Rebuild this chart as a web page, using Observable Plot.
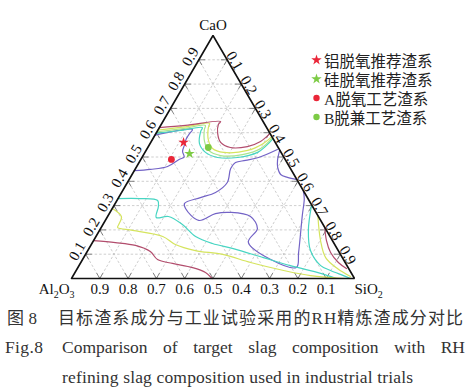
<!DOCTYPE html>
<html><head><meta charset="utf-8">
<script src="https://cdn.jsdelivr.net/npm/d3@7"></script>
<script src="https://cdn.jsdelivr.net/npm/@observablehq/plot@0.6"></script>
<style>
body{margin:0;background:#fff;}
#wrap{position:relative;width:475px;height:391px;overflow:hidden;background:#fff;}
#legend{position:absolute;left:309px;top:50px;font-family:"Liberation Serif","Noto Sans CJK SC",serif;font-size:15.5px;color:#222;}
.row{display:flex;align-items:center;height:19px;white-space:nowrap;}
.row svg{width:15px;height:14px;flex:none;}
.cap{position:absolute;font-family:"Liberation Serif","Noto Sans CJK SC",serif;color:#333;white-space:nowrap;line-height:20px;}
</style></head>
<body><div id="wrap"></div>
<script>
// ---- data: compositions as [CaO, SiO2] mass fractions (Al2O3 = 1 - CaO - SiO2)
const ticks = [0.1,0.2,0.3,0.4,0.5,0.6,0.7,0.8,0.9];
const vertexLabels = ["CaO","Al2O3","SiO2"];

const maroonTop  = [[0.621,0],[0.630,0.088],[0.646,0.204],[0.634,0.202],[0.597,0.218],[0.560,0.247],[0.539,0.292],[0.543,0.350],[0.564,0.386],[0.597,0.403]];
const yellowTop  = [[0.611,0],[0.624,0.090],[0.638,0.169],[0.621,0.173],[0.568,0.200],[0.535,0.231],[0.519,0.278],[0.527,0.359],[0.556,0.400],[0.584,0.416]];
const greenTop   = [[0.604,0],[0.617,0.087],[0.630,0.158],[0.613,0.163],[0.564,0.188],[0.527,0.221],[0.506,0.274],[0.510,0.349],[0.535,0.401],[0.580,0.420]];
const cyanTop    = [[0.597,0],[0.609,0.080],[0.621,0.152],[0.605,0.154],[0.556,0.174],[0.519,0.214],[0.498,0.267],[0.498,0.338],[0.519,0.398],[0.547,0.415],[0.576,0.424]];
const purpleTop  = [[0.590,0],[0.613,0.121],[0.597,0.119],[0.576,0.118],[0.547,0.125],[0.523,0.131],[0.500,0.148],[0.490,0.135],[0.461,0.109],[0.449,0.055],[0.444,0]];
const purpleMid  = [[0.531,0.462],[0.498,0.412],[0.486,0.372],[0.477,0.341],[0.453,0.336],[0.395,0.353],[0.354,0.332],[0.333,0.289],[0.309,0.245],[0.288,0.259],[0.239,0.330],[0.267,0.375],[0.272,0.426],[0.255,0.505],[0.206,0.554],[0.148,0.551],[0.045,0.772],[0.107,0.749],[0.259,0.686],[0.329,0.658],[0.362,0.638]];
const purpleRight= [[0.527,0.472],[0.486,0.485],[0.457,0.500],[0.428,0.525],[0.416,0.555],[0.407,0.593]];
const cyanLow    = [[0.329,0],[0.329,0.079],[0.321,0.144],[0.296,0.159],[0.251,0.174],[0.255,0.215],[0.222,0.281],[0.173,0.352],[0.144,0.426],[0.123,0.510],[0.086,0.635],[0.053,0.747],[0.021,0.870],[0,0.936]];
const cyanRight  = [[0.300,0.698],[0.198,0.738],[0.115,0.787],[0.053,0.854],[0.033,0.899],[0.012,0.955],[0,0.986]];
const yellowLow  = [[0.288,0],[0.255,0.049],[0.222,0.056],[0.210,0.058],[0.198,0.117],[0.173,0.236],[0.140,0.297],[0.115,0.380],[0.099,0.485],[0.066,0.600],[0.033,0.733],[0.012,0.839],[0,0.968]];
const yellowRight= [[0.259,0.741],[0.156,0.802],[0.086,0.855],[0.041,0.919],[0.008,0.982]];
const maroonLow  = [[0.156,0],[0.148,0.081],[0.136,0.158],[0.111,0.223],[0.078,0.265],[0.062,0.326],[0.045,0.405],[0.025,0.461],[0,0.497]];
const maroonRight= [[0.210,0.790],[0.156,0.823],[0.107,0.862],[0.066,0.910],[0.041,0.951]];

const markerNames  = ["铝脱氧推荐渣系","硅脱氧推荐渣系","A脱氧工艺渣系","B脱兼工艺渣系"];
const markerCaO    = [0.560, 0.514, 0.490, 0.539];
const markerSiO2   = [0.116, 0.160, 0.108, 0.214];
const markerSymbol = ["star","star","circle","circle"];

// ---- styles
const COL = {purple:"#7363c6", cyan:"#47d5c2", green:"#a9e58e", yellow:"#d5e45e", maroon:"#b24d6d", red:"#ea2638", lime:"#7dcb45"};
const markerColor = [COL.red, COL.lime, COL.red, COL.lime];
const contours = [
  [purpleTop,COL.purple],[purpleMid,COL.purple],[purpleRight,COL.purple],
  [cyanTop,COL.cyan],[cyanLow,COL.cyan],[cyanRight,COL.cyan],
  [greenTop,COL.green],
  [yellowTop,COL.yellow],[yellowLow,COL.yellow],[yellowRight,COL.yellow],
  [maroonTop,COL.maroon],[maroonLow,COL.maroon],[maroonRight,COL.maroon]
];

const SQ = Math.sqrt(3)/2;
const tx = d => d[1] + d[0]/2;
const ty = d => d[0]*SQ;

const gridSegs = ticks.flatMap(k => [
  [[k,0],[k,1-k]],
  [[0,k],[1-k,k]],
  [[0,1-k],[1-k,0]]
]);
const T = 0.022;
const tickSegs = ticks.flatMap(k => [
  [[0,k],[T,k]], [[0,k],[T,k-T]],
  [[k,0],[k,T]], [[k,0],[k-T,T]],
  [[k,1-k],[k,1-k-T]], [[k,1-k],[k-T,1-k]]
]);
const frame = [[0,0],[0,1],[1,0],[0,0]];
const idx = d3.range(markerNames.length);

const marks = [
  Plot.link(gridSegs, {x1:s=>tx(s[0]), y1:s=>ty(s[0]), x2:s=>tx(s[1]), y2:s=>ty(s[1]), stroke:"#c2c2c2", strokeWidth:0.8, strokeDasharray:"2.5,2"}),
  Plot.link(tickSegs, {x1:s=>tx(s[0]), y1:s=>ty(s[0]), x2:s=>tx(s[1]), y2:s=>ty(s[1]), stroke:"#666", strokeWidth:0.8}),
  ...contours.map(([pts,c]) => Plot.line(pts, {x:tx, y:ty, stroke:c, strokeWidth:1.2, curve:"catmull-rom"})),
  Plot.line(frame, {x:tx, y:ty, stroke:"#111", strokeWidth:1.6, strokeLinejoin:"miter"}),
  Plot.dot(idx.filter(i=>markerSymbol[i]==="star"), {x:i=>markerSiO2[i]+markerCaO[i]/2, y:i=>markerCaO[i]*SQ, symbol:"star", fill:i=>markerColor[i], r:3.3}),
  Plot.dot(idx.filter(i=>markerSymbol[i]==="circle"), {x:i=>markerSiO2[i]+markerCaO[i]/2, y:i=>markerCaO[i]*SQ, symbol:"circle", fill:i=>markerColor[i], r:3.4}),
  // bottom: Al2O3 fraction
  Plot.text(ticks, {x:k=>1-k, y:()=>0, text:k=>k.toFixed(1), dy:11, fontSize:15, fill:"#111"}),
  // left: CaO fraction
  Plot.text(ticks, {x:k=>k/2, y:k=>k*SQ, text:k=>k.toFixed(1), rotate:-60, dx:-8.5, dy:-3, fontSize:15, fill:"#111"}),
  // right: SiO2 fraction
  Plot.text(ticks, {x:k=>(1+k)/2, y:k=>(1-k)*SQ, text:k=>k.toFixed(1), rotate:60, dx:7.5, dy:1, fontSize:15, fill:"#111"}),
  Plot.text([vertexLabels[0]], {x:()=>0.5, y:()=>SQ, text:d=>d, dy:-10, fontSize:15, fill:"#111"}),
  Plot.text([vertexLabels[1]], {x:()=>0, y:()=>0, text:d=>d, dy:11, dx:3, textAnchor:"end", fontSize:15, fill:"#111"}),
  Plot.text([vertexLabels[2]], {x:()=>1, y:()=>0, text:d=>d, dy:11, dx:0, textAnchor:"start", fontSize:15, fill:"#111"})
];

const svg = Plot.plot({
  width:475, height:300,
  marginLeft:71, marginRight:121, marginTop:35, marginBottom:22,
  x:{domain:[0,1], axis:null},
  y:{domain:[0,SQ], axis:null},
  style:{fontFamily:'"Liberation Serif", serif', fontSize:"15px", background:"white", overflow:"visible"},
  marks
});
const wrap = document.getElementById("wrap");
wrap.appendChild(svg);

// subscripts for oxide formulas
const NS = "http://www.w3.org/2000/svg";
svg.querySelectorAll("text").forEach(t => {
  const s = t.textContent;
  if (s === "Al2O3" || s === "SiO2") {
    const parts = s.match(/[A-Za-z]+|\d/g);
    t.textContent = "";
    let prevSub = false;
    parts.forEach(p => {
      const ts = document.createElementNS(NS, "tspan");
      ts.textContent = p;
      const isSub = /\d/.test(p);
      if (isSub) { ts.setAttribute("font-size","10"); ts.setAttribute("dy","4"); }
      else if (prevSub) ts.setAttribute("dy","-4");
      prevSub = isSub;
      t.appendChild(ts);
    });
  }
});

// legend
const legend = document.createElement("div");
legend.id = "legend";
idx.forEach(i => {
  const row = document.createElement("div");
  row.className = "row";
  const ms = d3.create("svg").attr("viewBox","-7.5 -7 15 14");
  if (markerSymbol[i] === "star") ms.append("path").attr("d", d3.symbol(d3.symbolStar, 34)()).attr("fill", markerColor[i]);
  else ms.append("circle").attr("r", 3.2).attr("fill", markerColor[i]);
  row.appendChild(ms.node());
  const sp = document.createElement("span");
  sp.textContent = markerNames[i];
  row.appendChild(sp);
  legend.appendChild(row);
});
wrap.appendChild(legend);

// caption
function cap(text, left, top, size, target) {
  const d = document.createElement("div");
  d.className = "cap";
  d.style.left = left + "px"; d.style.top = top + "px"; d.style.fontSize = size + "px";
  d.textContent = text;
  wrap.appendChild(d);
  if (target) {
    const w = d.getBoundingClientRect().width;
    const n = text.length;
    d.style.letterSpacing = ((target - w) / (n - 1)) + "px";
  }
  return d;
}
cap("图 8", 7, 309, 17, 30);
cap("目标渣系成分与工业试验采用的RH精炼渣成分对比", 58, 309, 17, 405);
cap("Fig.8", 5, 337, 17.5, 38);
const l2 = cap("Comparison of target slag composition with RH", 62, 337, 17.5);
l2.style.width = "403px"; l2.style.whiteSpace = "normal"; l2.style.textAlign = "justify"; l2.style.textAlignLast = "justify";
cap("refining slag composition used in industrial trials", 62, 367, 17.5, 351);
</script>
</body></html>
